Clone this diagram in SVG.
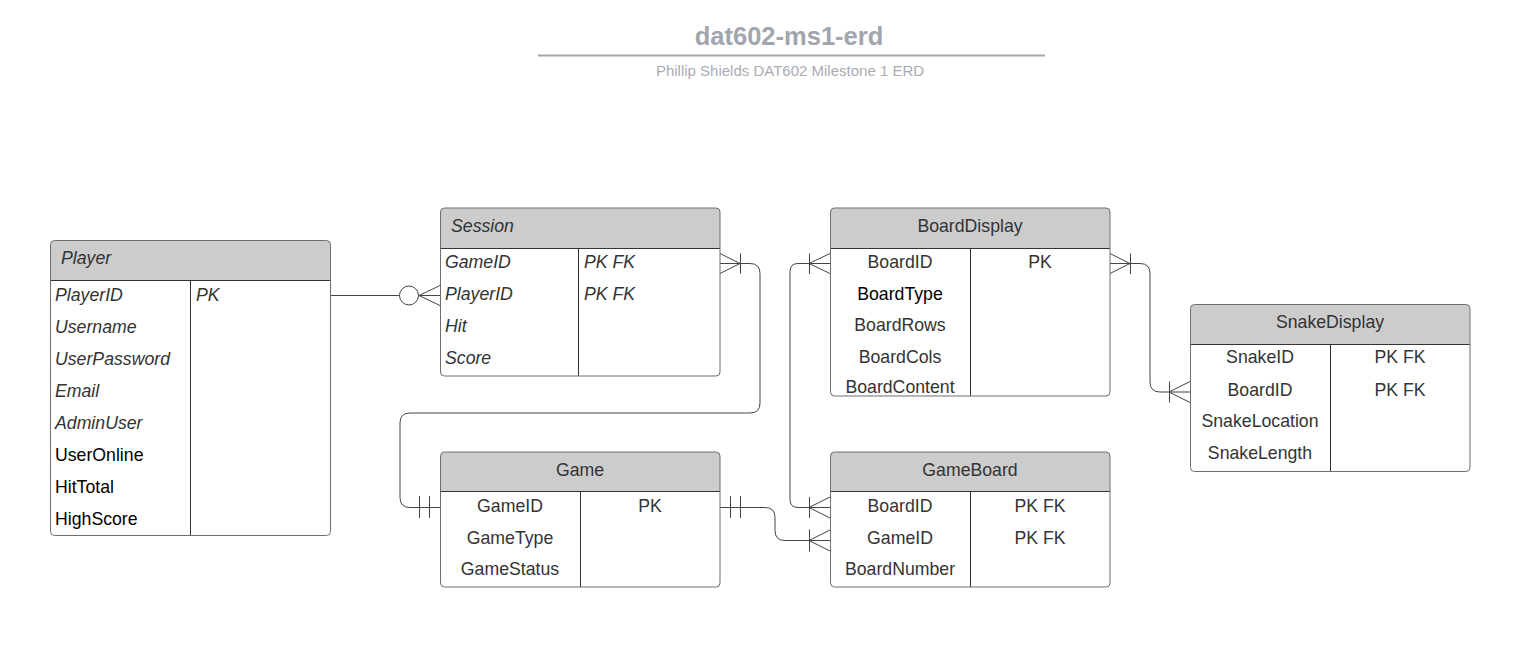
<svg xmlns="http://www.w3.org/2000/svg" width="1518" height="667" viewBox="0 0 1518 667">
<style>
text{font-family:"Liberation Sans",Arial,sans-serif;font-size:17.7px;fill:#333}
.it{font-style:italic}
.bk{fill:#000}
.c{text-anchor:middle}
.bg{fill:#fff;stroke:none}
.hdr{fill:#ccc;stroke:none}
.ol{fill:none;stroke:#6e6e6e;stroke-width:1}
.dv{stroke:#333;stroke-width:1;fill:none}
.cn{fill:none;stroke:#444;stroke-width:1}
.title{font-size:25.5px;font-weight:bold;fill:#a1a5ad;text-anchor:middle}
.sub{font-size:15px;fill:#a9acb3;text-anchor:middle}
</style>
<rect x="0" y="0" width="1518" height="667" fill="#fff"/>
<g id="title">
<text class="title" x="789" y="45">dat602-ms1-erd</text>
<line x1="538" y1="55.5" x2="1045" y2="55.5" stroke="#a3a7ae" stroke-width="2"/>
<text class="sub" x="790" y="76">Phillip Shields DAT602 Milestone 1 ERD</text>
</g>

<g id="connectors">
<!-- Player - Session -->
<path class="cn" d="M330 295.5 H399.5"/>
<circle class="cn" cx="409" cy="295.5" r="9.5" fill="#fff"/>
<path class="cn" d="M440 285.5 L419 295.5 L440 305.5 M418.5 295.5 H440"/>
<!-- Session - Game -->
<path class="cn" d="M720 263.5 H750 Q760 263.5 760 273.5 V403 Q760 413 750 413 H410 Q400 413 400 423 V497.5 Q400 507.5 410 507.5 H440"/>
<path class="cn" d="M720 253.5 L740 263.5 L720 273.5 M740.5 253.5 V273.5"/>
<path class="cn" d="M419.5 496 V518 M429.5 496 V518"/>
<!-- Game - GameBoard -->
<path class="cn" d="M720 507.5 H765 Q775 507.5 775 517.5 V530.5 Q775 540.5 785 540.5 H830"/>
<path class="cn" d="M730.5 496 V518 M740.5 496 V518"/>
<path class="cn" d="M830 530 L809 540.5 L830 551 M809.5 529.5 V551.5"/>
<!-- BoardDisplay - GameBoard -->
<path class="cn" d="M830 263.5 H798 Q790 263.5 790 271.5 V499.5 Q790 507.5 798 507.5 H830"/>
<path class="cn" d="M830 253.5 L809 263.5 L830 273.5 M809.5 253.5 V274"/>
<path class="cn" d="M830 497 L809 507.5 L830 518 M809.5 497 V518"/>
<!-- BoardDisplay - SnakeDisplay -->
<path class="cn" d="M1110 263.5 H1140 Q1150 263.5 1150 273.5 V382 Q1150 392 1160 392 H1190"/>
<path class="cn" d="M1110 253.5 L1130 263.5 L1110 273.5 M1130.5 253.5 V274"/>
<path class="cn" d="M1190 381.5 L1169 392 L1190 402.5 M1169.5 381.5 V402.5"/>
</g>

<g id="player">
<rect class="bg" x="50.5" y="240.5" width="280" height="295" rx="4"/>
<path class="hdr" d="M50.5 280.5 V244.5 Q50.5 240.5 54.5 240.5 H326.5 Q330.5 240.5 330.5 244.5 V280.5 Z"/>
<path class="dv" d="M50.5 280.5 H330.5 M190.5 280.5 V535.5"/>
<rect class="ol" x="50.5" y="240.5" width="280" height="295" rx="4"/>
<text class="it" x="61" y="263.5">Player</text>
<text class="it" x="55" y="300.5">PlayerID</text>
<text class="it" x="196" y="300.5">PK</text>
<text class="it" x="55" y="332.5">Username</text>
<text class="it" x="55" y="364.5">UserPassword</text>
<text class="it" x="55" y="396.5">Email</text>
<text class="it" x="55" y="428.5">AdminUser</text>
<text class="bk" x="55" y="460.5">UserOnline</text>
<text class="bk" x="55" y="492.5">HitTotal</text>
<text class="bk" x="55" y="524.5">HighScore</text>
</g>

<g id="session">
<rect class="bg" x="440.5" y="208" width="279.5" height="168" rx="4"/>
<path class="hdr" d="M440.5 248.5 V212 Q440.5 208 444.5 208 H716 Q720 208 720 212 V248.5 Z"/>
<path class="dv" d="M440.5 248.5 H720 M578.5 248.5 V376"/>
<rect class="ol" x="440.5" y="208" width="279.5" height="168" rx="4"/>
<text class="it" x="451" y="232">Session</text>
<text class="it" x="445" y="268">GameID</text>
<text class="it" x="584" y="268">PK FK</text>
<text class="it" x="445" y="300">PlayerID</text>
<text class="it" x="584" y="300">PK FK</text>
<text class="it" x="445" y="332">Hit</text>
<text class="it" x="445" y="364">Score</text>
</g>

<g id="boarddisplay">
<rect class="bg" x="830.5" y="208" width="279.5" height="188" rx="4"/>
<path class="hdr" d="M830.5 248.5 V212 Q830.5 208 834.5 208 H1106 Q1110 208 1110 212 V248.5 Z"/>
<path class="dv" d="M830.5 248.5 H1110 M970.5 248.5 V396"/>
<rect class="ol" x="830.5" y="208" width="279.5" height="188" rx="4"/>
<text class="c" x="970" y="231.5">BoardDisplay</text>
<text class="c" x="900" y="268">BoardID</text>
<text class="c" x="1040" y="268">PK</text>
<text class="c bk" x="900" y="299.5">BoardType</text>
<text class="c" x="900" y="331">BoardRows</text>
<text class="c" x="900" y="362.5">BoardCols</text>
<text class="c" x="900" y="392.5">BoardContent</text>
</g>

<g id="snakedisplay">
<rect class="bg" x="1190.5" y="304.5" width="279.5" height="167" rx="4"/>
<path class="hdr" d="M1190.5 344.5 V308.5 Q1190.5 304.5 1194.5 304.5 H1466 Q1470 304.5 1470 308.5 V344.5 Z"/>
<path class="dv" d="M1190.5 344.5 H1470 M1330.5 344.5 V471.5"/>
<rect class="ol" x="1190.5" y="304.5" width="279.5" height="167" rx="4"/>
<text class="c" x="1330" y="328">SnakeDisplay</text>
<text class="c" x="1260" y="363">SnakeID</text>
<text class="c" x="1400" y="363">PK FK</text>
<text class="c" x="1260" y="395.5">BoardID</text>
<text class="c" x="1400" y="395.5">PK FK</text>
<text class="c" x="1260" y="427">SnakeLocation</text>
<text class="c" x="1260" y="458.5">SnakeLength</text>
</g>

<g id="game">
<rect class="bg" x="440.5" y="452" width="279.5" height="135" rx="4"/>
<path class="hdr" d="M440.5 491.5 V456 Q440.5 452 444.5 452 H716 Q720 452 720 456 V491.5 Z"/>
<path class="dv" d="M440.5 491.5 H720 M580.5 491.5 V587"/>
<rect class="ol" x="440.5" y="452" width="279.5" height="135" rx="4"/>
<text class="c" x="580" y="475.5">Game</text>
<text class="c" x="510" y="511.5">GameID</text>
<text class="c" x="650" y="511.5">PK</text>
<text class="c" x="510" y="543.5">GameType</text>
<text class="c" x="510" y="575">GameStatus</text>
</g>

<g id="gameboard">
<rect class="bg" x="830.5" y="452" width="279.5" height="135" rx="4"/>
<path class="hdr" d="M830.5 491.5 V456 Q830.5 452 834.5 452 H1106 Q1110 452 1110 456 V491.5 Z"/>
<path class="dv" d="M830.5 491.5 H1110 M970.5 491.5 V587"/>
<rect class="ol" x="830.5" y="452" width="279.5" height="135" rx="4"/>
<text class="c" x="970" y="475.5">GameBoard</text>
<text class="c" x="900" y="511.5">BoardID</text>
<text class="c" x="1040" y="511.5">PK FK</text>
<text class="c" x="900" y="543.5">GameID</text>
<text class="c" x="1040" y="543.5">PK FK</text>
<text class="c" x="900" y="575">BoardNumber</text>
</g>
</svg>
